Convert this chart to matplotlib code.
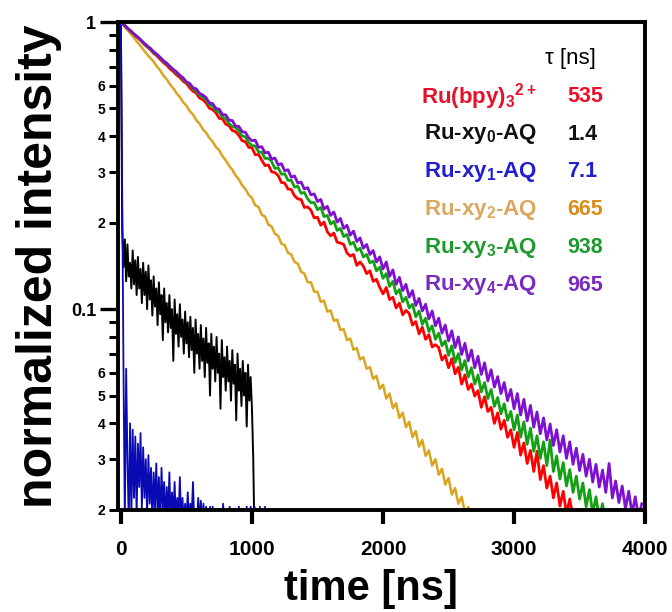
import numpy as np
import matplotlib
matplotlib.use("Agg")
import matplotlib.pyplot as plt
from matplotlib.ticker import FixedLocator, FixedFormatter

plt.rcParams['font.family'] = ['Liberation Sans', 'DejaVu Sans']
plt.rcParams['mathtext.fontset'] = 'custom'
plt.rcParams['mathtext.rm'] = 'Liberation Sans'
plt.rcParams['mathtext.bf'] = 'Liberation Sans:bold'
plt.rcParams['mathtext.default'] = 'bf'

# sampling intervals [ns]
dt_main = 25
dt_black = 10
dt_blue = 10

# Ru(bpy)3 2+
red = [1.000, 0.976, 0.952, 0.927, 0.905, 0.884, 0.863, 0.839, 0.819, 0.801,
       0.778, 0.762, 0.742, 0.722, 0.707, 0.687, 0.672, 0.654, 0.641, 0.622,
       0.611, 0.590, 0.574, 0.566, 0.544, 0.536, 0.523, 0.501, 0.495, 0.483,
       0.462, 0.460, 0.441, 0.435, 0.419, 0.415, 0.403, 0.386, 0.383, 0.366,
       0.365, 0.345, 0.346, 0.330, 0.316, 0.318, 0.301, 0.299, 0.292, 0.276,
       0.275, 0.262, 0.261, 0.248, 0.242, 0.241, 0.226, 0.227, 0.221, 0.208,
       0.209, 0.196, 0.201, 0.186, 0.180, 0.184, 0.171, 0.170, 0.168, 0.157,
       0.153, 0.155, 0.142, 0.146, 0.141, 0.133, 0.136, 0.125, 0.127, 0.119,
       0.113, 0.119, 0.108, 0.110, 0.101, 0.105, 0.0955, 0.0990, 0.0965, 0.0880,
       0.0905, 0.0820, 0.0865, 0.0785, 0.0815, 0.0738, 0.0752, 0.0735, 0.0665, 0.0690,
       0.0625, 0.0672, 0.0595, 0.0628, 0.0548, 0.0590, 0.0525, 0.0548, 0.0498, 0.0520,
       0.0455, 0.0495, 0.0440, 0.0455, 0.0400, 0.0435, 0.0382, 0.0410, 0.0358, 0.0380,
       0.0330, 0.0372, 0.0310, 0.0342, 0.0290, 0.0322, 0.0272, 0.0320, 0.0255, 0.0285,
       0.0238, 0.0262, 0.0220, 0.0248, 0.0206, 0.0232, 0.0194, 0.0218, 0.0188]

# Ru-xy0-AQ
black = [1.0, 0.19, 0.14, 0.175, 0.125, 0.168, 0.13, 0.145, 0.118, 0.16,
         0.122, 0.148, 0.112, 0.152, 0.118, 0.138, 0.105, 0.145, 0.112, 0.135,
         0.100, 0.142, 0.108, 0.126, 0.095, 0.130, 0.102, 0.118, 0.088, 0.124,
         0.096, 0.112, 0.078, 0.118, 0.090, 0.105, 0.083, 0.112, 0.086, 0.100,
         0.066, 0.108, 0.082, 0.096, 0.074, 0.104, 0.080, 0.092, 0.070, 0.098,
         0.076, 0.090, 0.068, 0.094, 0.072, 0.086, 0.060, 0.092, 0.070, 0.082,
         0.062, 0.088, 0.066, 0.079, 0.058, 0.086, 0.065, 0.076, 0.050, 0.082,
         0.062, 0.074, 0.056, 0.080, 0.060, 0.070, 0.045, 0.078, 0.058, 0.068,
         0.052, 0.074, 0.056, 0.066, 0.048, 0.072, 0.055, 0.064, 0.041, 0.070,
         0.052, 0.062, 0.046, 0.066, 0.050, 0.060, 0.039, 0.064, 0.048, 0.058,
         0.045, 0.030, 0.015]

# Ru-xy1-AQ
blue = [1.0, 0.25, 0.06, 0.018, 0.062, 0.03, 0.018, 0.04, 0.019, 0.038,
        0.022, 0.036, 0.019, 0.034, 0.024, 0.037, 0.02, 0.033, 0.022, 0.03,
        0.019, 0.031, 0.021, 0.028, 0.018, 0.027, 0.02, 0.029, 0.019, 0.026,
        0.018, 0.028, 0.02, 0.025, 0.018, 0.024, 0.019, 0.027, 0.018, 0.023,
        0.019, 0.025, 0.018, 0.022, 0.019, 0.026, 0.018, 0.022, 0.018, 0.021,
        0.018, 0.023, 0.018, 0.021, 0.019, 0.025, 0.018, 0.019, 0.018, 0.022,
        0.018, 0.0215, 0.018, 0.021, 0.017, 0.0205, 0.017, 0.017, 0.0205, 0.017,
        0.0205, 0.017, 0.017, 0.017, 0.017, 0.017, 0.017, 0.017, 0.021, 0.017,
        0.017, 0.017, 0.017, 0.0205, 0.017, 0.017, 0.017, 0.017, 0.017, 0.017,
        0.0205, 0.017, 0.017, 0.017, 0.017, 0.017, 0.0205, 0.017, 0.017, 0.0205,
        0.017, 0.017, 0.0205, 0.017, 0.017, 0.017, 0.0205, 0.017, 0.017, 0.017,
        0.0205, 0.017, 0.017, 0.017, 0.017, 0.017]

# Ru-xy2-AQ
yellow = [1.000, 0.970, 0.936, 0.910, 0.881, 0.851, 0.826, 0.797, 0.771, 0.750,
          0.727, 0.700, 0.678, 0.651, 0.631, 0.606, 0.588, 0.565, 0.548, 0.526,
          0.511, 0.490, 0.476, 0.455, 0.443, 0.423, 0.412, 0.395, 0.383, 0.367,
          0.358, 0.341, 0.330, 0.316, 0.306, 0.292, 0.283, 0.270, 0.262, 0.250,
          0.244, 0.230, 0.227, 0.213, 0.210, 0.197, 0.194, 0.183, 0.180, 0.169,
          0.167, 0.157, 0.155, 0.146, 0.144, 0.135, 0.133, 0.124, 0.124, 0.115,
          0.115, 0.106, 0.107, 0.098, 0.0990, 0.0910, 0.0920, 0.0845, 0.0852, 0.0780,
          0.0790, 0.0722, 0.0732, 0.0668, 0.0680, 0.0620, 0.0628, 0.0572, 0.0585, 0.0528,
          0.0545, 0.0488, 0.0508, 0.0452, 0.0470, 0.0418, 0.0436, 0.0388, 0.0405, 0.0358,
          0.0376, 0.0332, 0.0350, 0.0308, 0.0322, 0.0285, 0.0300, 0.0265, 0.0278, 0.0245,
          0.0258, 0.0226, 0.0238, 0.0210, 0.0222, 0.0196, 0.0204]

# Ru-xy3-AQ
green = [1.000, 0.975, 0.954, 0.929, 0.906, 0.888, 0.866, 0.843, 0.823, 0.806,
         0.784, 0.768, 0.751, 0.730, 0.713, 0.699, 0.682, 0.663, 0.650, 0.632,
         0.615, 0.606, 0.584, 0.577, 0.556, 0.549, 0.535, 0.515, 0.510, 0.490,
         0.486, 0.466, 0.461, 0.443, 0.433, 0.429, 0.418, 0.401, 0.398, 0.381,
         0.371, 0.370, 0.353, 0.352, 0.335, 0.335, 0.327, 0.309, 0.311, 0.295,
         0.296, 0.281, 0.281, 0.266, 0.268, 0.253, 0.255, 0.242, 0.235, 0.235,
         0.222, 0.226, 0.210, 0.212, 0.198, 0.202, 0.188, 0.191, 0.179, 0.182,
         0.168, 0.171, 0.160, 0.163, 0.152, 0.155, 0.145, 0.147, 0.136, 0.140,
         0.128, 0.133, 0.120, 0.125, 0.113, 0.117, 0.106, 0.110, 0.101, 0.104,
         0.0940, 0.0985, 0.0885, 0.0930, 0.0835, 0.0875, 0.0785, 0.0825, 0.0745, 0.0775,
         0.0690, 0.0745, 0.0652, 0.0700, 0.0615, 0.0662, 0.0580, 0.0625, 0.0548, 0.0590,
         0.0515, 0.0555, 0.0488, 0.0525, 0.0458, 0.0492, 0.0432, 0.0468, 0.0410, 0.0440,
         0.0380, 0.0428, 0.0358, 0.0405, 0.0338, 0.0385, 0.0320, 0.0362, 0.0302, 0.0345,
         0.0285, 0.0350, 0.0272, 0.0308, 0.0256, 0.0292, 0.0242, 0.0276, 0.0230, 0.0262,
         0.0218, 0.0248, 0.0205, 0.0235, 0.0194, 0.0222, 0.0185, 0.0210, 0.0178]

# Ru-xy4-AQ
purple = [1.000, 0.977, 0.952, 0.932, 0.908, 0.890, 0.869, 0.846, 0.826, 0.810,
          0.788, 0.772, 0.753, 0.733, 0.719, 0.700, 0.683, 0.670, 0.652, 0.639,
          0.619, 0.611, 0.590, 0.585, 0.564, 0.557, 0.545, 0.523, 0.520, 0.500,
          0.497, 0.476, 0.475, 0.455, 0.454, 0.434, 0.433, 0.415, 0.413, 0.395,
          0.386, 0.388, 0.366, 0.368, 0.350, 0.352, 0.333, 0.336, 0.318, 0.321,
          0.303, 0.306, 0.288, 0.291, 0.275, 0.277, 0.262, 0.265, 0.250, 0.252,
          0.237, 0.241, 0.223, 0.228, 0.212, 0.218, 0.201, 0.207, 0.191, 0.196,
          0.181, 0.187, 0.172, 0.177, 0.163, 0.168, 0.155, 0.160, 0.146, 0.152,
          0.138, 0.146, 0.130, 0.137, 0.122, 0.129, 0.116, 0.122, 0.110, 0.116,
          0.103, 0.109, 0.0985, 0.104, 0.0925, 0.0985, 0.0875, 0.0930, 0.0825, 0.0880,
          0.0775, 0.0840, 0.0735, 0.0800, 0.0695, 0.0760, 0.0660, 0.0720, 0.0625, 0.0685,
          0.0592, 0.0650, 0.0562, 0.0615, 0.0535, 0.0582, 0.0508, 0.0555, 0.0480, 0.0525,
          0.0450, 0.0508, 0.0428, 0.0485, 0.0408, 0.0462, 0.0388, 0.0438, 0.0368, 0.0418,
          0.0350, 0.0398, 0.0335, 0.0380, 0.0318, 0.0362, 0.0302, 0.0345, 0.0288, 0.0328,
          0.0274, 0.0312, 0.0262, 0.0300, 0.0250, 0.0288, 0.0240, 0.0275, 0.0230, 0.0290,
          0.0220, 0.0252, 0.0212, 0.0242, 0.0202, 0.0232, 0.0194, 0.0222, 0.0188, 0.0210]

names = [r"Ru(bpy)$_3$$^{2+}$", r"Ru-xy$_0$-AQ", r"Ru-xy$_1$-AQ",
         r"Ru-xy$_2$-AQ", r"Ru-xy$_3$-AQ", r"Ru-xy$_4$-AQ"]
taus = ["535", "1.4", "7.1", "665", "938", "965"]
name_colors = ["#E8102A", "#111111", "#1F1FD0", "#DDA65E", "#1E9A2E", "#7B2CBF"]
tau_colors = ["#E8102A", "#111111", "#1F1FD0", "#D98C1A", "#1E9A2E", "#7B2CBF"]

decade_ticks = [0.1, 1]
decade_labels = ["0.1", "1"]
minor_ticks = [0.02, 0.03, 0.04, 0.05, 0.06, 0.07, 0.08, 0.09,
               0.2, 0.3, 0.4, 0.5, 0.6, 0.7, 0.8, 0.9]
minor_labels = ["2", "3", "4", "5", "6", "", "", "",
                "2", "3", "4", "5", "6", "", "", ""]
xticks = [0, 1000, 2000, 3000, 4000]

fig = plt.figure(figsize=(6.72, 6.12), dpi=100)
ax = fig.add_axes([0.176, 0.167, 0.784, 0.797])

ax.plot(np.arange(len(black)) * dt_black, black, color="black", lw=1.4)
ax.plot(np.arange(len(blue)) * dt_blue, blue, color="#0A0AB4", lw=1.3)
ax.plot(np.arange(len(yellow)) * dt_main, yellow, color="#DAA520", lw=1.8)
ax.plot(np.arange(len(red)) * dt_main, red, color="#FF0000", lw=2.0)
ax.plot(np.arange(len(green)) * dt_main, green, color="#14A014", lw=2.0)
ax.plot(np.arange(len(purple)) * dt_main, purple, color="#7F10D0", lw=2.0)

ax.set_yscale("log")
ax.set_ylim(0.02, 1)
ax.set_xlim(-20, 4000)
ax.yaxis.set_major_locator(FixedLocator(decade_ticks))
ax.yaxis.set_major_formatter(FixedFormatter(decade_labels))
ax.yaxis.set_minor_locator(FixedLocator(minor_ticks))
ax.yaxis.set_minor_formatter(FixedFormatter(minor_labels))
ax.set_xticks(xticks)
ax.set_xticklabels([str(v) for v in xticks])

for s in ax.spines.values():
    s.set_linewidth(2.8)
ax.tick_params(axis="y", which="major", length=13, width=2.4, labelsize=13, pad=3)
ax.tick_params(axis="y", which="minor", length=6.5, width=2.2, labelsize=10, pad=3)
ax.tick_params(axis="x", length=10, width=3, labelsize=15, pad=12)
for lab in (ax.get_xticklabels() + ax.get_yticklabels()
            + ax.yaxis.get_ticklabels(minor=True)):
    lab.set_fontweight("bold")

ax.set_xlabel("time [ns]", fontsize=30, fontweight="bold", labelpad=7)
ax.xaxis.label.set_x(0.48)
ax.set_ylabel("normalized intensity", fontsize=36, fontweight="bold", labelpad=6)

fig.text(0.811, 0.905, "τ [ns]", fontsize=16, va="center", ha="left")
row_y = [0.843, 0.781, 0.719, 0.657, 0.595, 0.534]
for name, tau, c1, c2, y in zip(names, taus, name_colors, tau_colors, row_y):
    fig.text(0.799, y, name, fontsize=16, fontweight="bold", color=c1, ha="right", va="center")
    fig.text(0.844, y, tau, fontsize=15.5, fontweight="bold", color=c2, ha="left", va="center")

fig.savefig("out.png", dpi=100)
